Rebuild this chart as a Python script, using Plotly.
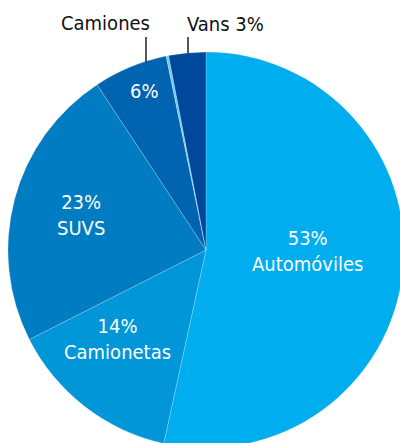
import plotly.graph_objects as go

labels = ["Automóviles", "Camionetas", "SUVS", "Camiones", "Otros", "Vans"]
values = [53, 14, 23, 6, 0.2, 3]
colors = ["#00adee", "#0096d8", "#007cc2", "#0064b1", "#6ccaf2", "#00489c"]

W, H = 410, 455
CX, CY, R = 206, 250, 198

def px(x):
    return x / W

def py(y):
    return (H - y) / H

FONT = "DejaVu Sans Condensed, Arial Narrow, sans-serif"

fig = go.Figure(go.Pie(
    labels=labels, values=values, sort=False, direction="clockwise", rotation=0,
    marker=dict(colors=colors, line=dict(color="rgba(255,255,255,0.35)", width=0.6)),
    textinfo="none", hoverinfo="label+percent", showlegend=False,
    domain=dict(x=[px(CX - R), px(CX + R)], y=[py(CY + R), py(CY - R)]),
))

inner = [
    ("53%<br>Automóviles", 307.5, 250.5),
    ("23%<br>SUVS", 81, 215),
    ("14%<br>Camionetas", 118, 339),
    ("6%", 144.5, 91),
]
outer = [("Camiones", 105.5, 22.5), ("Vans 3%", 225.5, 23.5)]

ann = []
for t, x, y in inner:
    ann.append(dict(text=t, x=px(x), y=py(y), xref="paper", yref="paper",
                    xanchor="center", yanchor="middle", showarrow=False,
                    font=dict(family=FONT, size=20, color="white")))
for t, x, y in outer:
    ann.append(dict(text=t, x=px(x), y=py(y), xref="paper", yref="paper",
                    xanchor="center", yanchor="middle", showarrow=False,
                    font=dict(family=FONT, size=20, color="#111111")))

shapes = [
    dict(type="line", xref="paper", yref="paper", x0=px(146), x1=px(146), y0=py(37), y1=py(62),
         line=dict(color="#222222", width=1.5)),
    dict(type="line", xref="paper", yref="paper", x0=px(188), x1=px(188), y0=py(37), y1=py(53),
         line=dict(color="#222222", width=1.5)),
]

fig.update_layout(width=W, height=H, margin=dict(l=0, r=0, t=0, b=0),
                  paper_bgcolor="white", plot_bgcolor="white",
                  annotations=ann, shapes=shapes)

fig.write_html("out.html", config={"displayModeBar": False},
               post_script="document.body.style.margin='0';document.body.style.overflow='hidden';")
